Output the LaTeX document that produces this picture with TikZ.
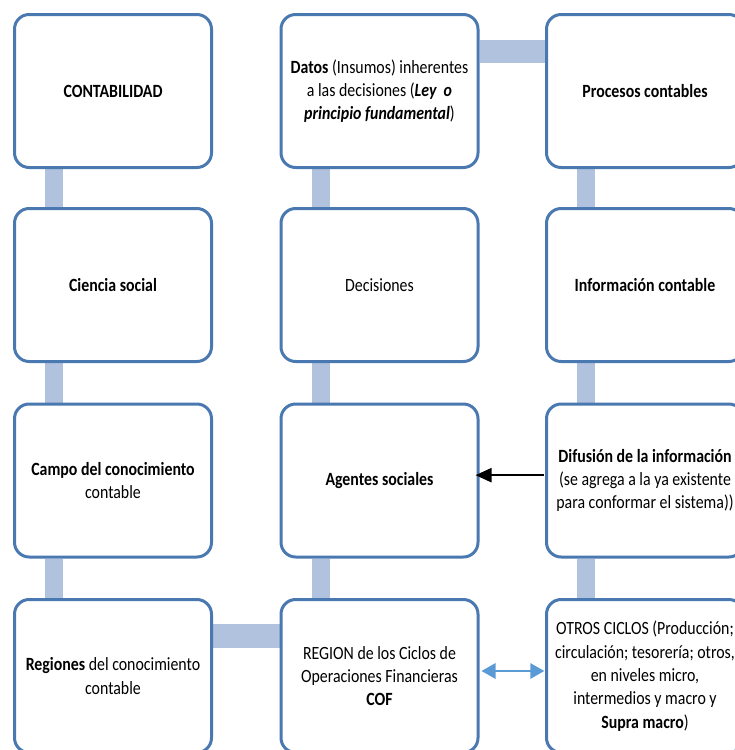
\documentclass[tikz,border=0pt]{standalone}
\usepackage{fontspec}
\setmainfont{Carlito}[FakeStretch=0.85]
\usetikzlibrary{arrows.meta,backgrounds}
\definecolor{boxline}{HTML}{4A78B0}
\definecolor{connfill}{HTML}{B0C2DE}
\definecolor{bluearrow}{HTML}{5B9BD5}
\begin{document}
\begin{tikzpicture}[x=0.75pt,y=-0.75pt,
  box/.style={draw=boxline, line width=2.25pt, rounded corners=11pt, fill=white,
    minimum width=147.75pt, minimum height=114.75pt, align=center,
    font=\fontsize{14}{17.5}\selectfont, inner sep=2pt},
  vlink/.style={draw=connfill, line width=13.5pt},
  hlink/.style={draw=connfill, line width=17.5pt},
  blackarrow/.style={draw=black, line width=1.7pt, -{Triangle[length=12pt,width=10.5pt]}},
  bluedouble/.style={draw=bluearrow, line width=1.5pt,
    {Triangle[length=10.5pt,width=11.5pt]}-{Triangle[length=10.5pt,width=11.5pt]}}]
\clip (0,0) rectangle (735,750);
% row 1
\node[box] (r1c1) at (113,91) {\textbf{CONTABILIDAD}};
\node[box] (r1c2) at (379.5,91) {\textbf{Datos} (Insumos) inherentes\\ a las decisiones (\textbf{\textit{Ley~ o}}\\ \textbf{\textit{principio fundamental}})};
\node[box] (r1c3) at (645,91) {\textbf{Procesos contables}};
% row 2
\node[box] (r2c1) at (113,285) {\textbf{Ciencia social}};
\node[box] (r2c2) at (379.5,285) {Decisiones};
\node[box] (r2c3) at (645,285) {\textbf{Información contable}};
% row 3
\node[box] (r3c1) at (113,480.5) {\textbf{Campo del conocimiento}\\ contable};
\node[box] (r3c2) at (379.5,480.5) {\textbf{Agentes sociales}};
\node[box] (r3c3) at (645,480.5) {\textbf{Difusión de la información}\\ (se agrega a la ya existente\\ para conformar el sistema))};
% row 4
\node[box] (r4c1) at (113,676) {\textbf{Regiones} del conocimiento\\ contable};
\node[box] (r4c2) at (379.5,676) {REGION de los Ciclos de\\ Operaciones Financieras\\ \textbf{COF}};
\node[box] (r4c3) at (645,676) {OTROS CICLOS (Producción;\\ circulación; tesorería; otros,\\ en niveles micro,\\ intermedios y macro y\\ \textbf{Supra macro})};
% connectors behind
\begin{scope}[on background layer]
  \foreach \c in {c1,c2,c3}{
    \draw[vlink] ([xshift=-44.25pt]r1\c.south) -- ([xshift=-44.25pt]r2\c.north);
    \draw[vlink] ([xshift=-44.25pt]r2\c.south) -- ([xshift=-44.25pt]r3\c.north);
    \draw[vlink] ([xshift=-44.25pt]r3\c.south) -- ([xshift=-44.25pt]r4\c.north);
  }
  \draw[hlink] ([yshift=29.6pt]r1c2.east) -- ([yshift=29.6pt]r1c3.west);
  \draw[hlink] ([yshift=30pt]r4c1.east) -- ([yshift=30pt]r4c2.west);
\end{scope}
% arrows
\draw[blackarrow] ([yshift=4pt,xshift=-1pt]r3c3.west) -- ([yshift=4pt,xshift=-3pt]r3c2.east);
\draw[bluedouble] ([yshift=3.75pt,xshift=1.5pt]r4c2.east) -- ([yshift=3.75pt,xshift=-0.5pt]r4c3.west);
\end{tikzpicture}
\end{document}
